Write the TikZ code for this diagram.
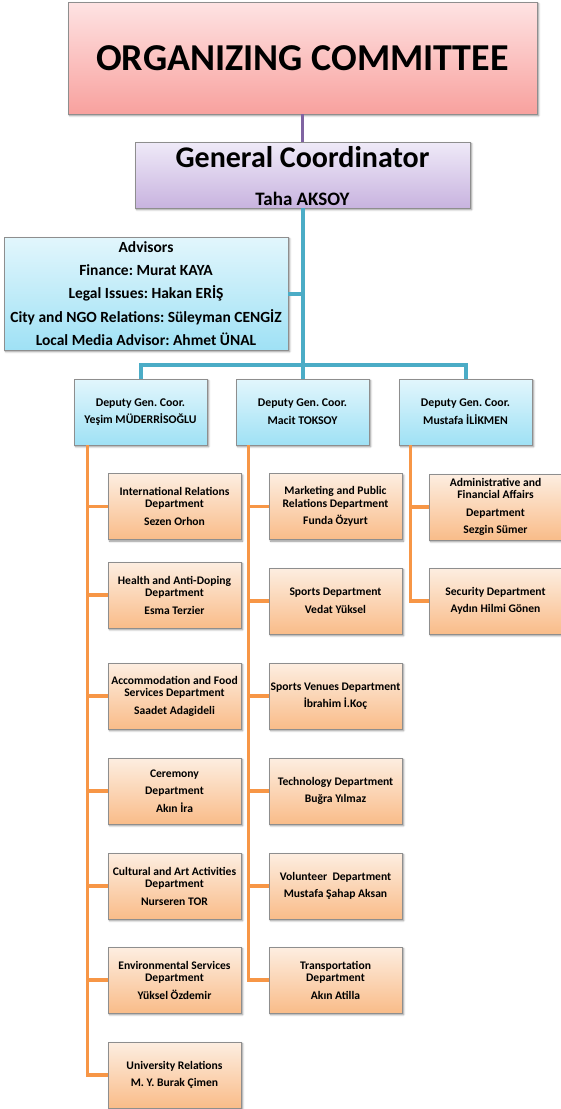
\documentclass[tikz,border=0pt]{standalone}
\usepackage{fontspec}
\setmainfont{Carlito}
\usetikzlibrary{shadows.blur}
\frenchspacing
\definecolor{ocTop}{HTML}{FEE3E3}
\definecolor{ocBot}{HTML}{F8A19E}
\definecolor{gcTop}{HTML}{EFEAF8}
\definecolor{gcBot}{HTML}{C8B3DF}
\definecolor{cyTop}{HTML}{E2F6FC}
\definecolor{cyBot}{HTML}{9FE1F5}
\definecolor{dpTop}{HTML}{FDEEE1}
\definecolor{dpBot}{HTML}{F9BC89}
\definecolor{boxGray}{HTML}{8E8E8E}
\definecolor{purpleLine}{HTML}{8064A2}
\definecolor{tealLine}{HTML}{4BACC6}
\definecolor{orangeLine}{HTML}{F79646}
\tikzset{
  box/.style={draw=boxGray, line width=0.8pt, inner sep=0pt, align=center,
    blur shadow={shadow xshift=1.6pt, shadow yshift=-1.6pt, shadow blur steps=5, shadow opacity=45}},
  ocbox/.style={box, top color=ocTop, bottom color=ocBot, minimum width=469pt, minimum height=112pt,
    font=\fontsize{38}{42}\selectfont\bfseries},
  gcbox/.style={box, top color=gcTop, bottom color=gcBot, minimum width=335pt, minimum height=66pt},
  advbox/.style={box, top color=cyTop, bottom color=cyBot, minimum width=284pt, minimum height=113pt,
    font=\fontsize{15.5}{23.3}\selectfont\bfseries},
  depbox/.style={box, top color=cyTop, bottom color=cyBot, minimum width=133pt, minimum height=66pt,
    font=\fontsize{11.8}{12.5}\selectfont\bfseries},
  deptbox/.style={box, top color=dpTop, bottom color=dpBot, minimum width=133pt, minimum height=66pt,
    font=\fontsize{11.6}{12.4}\selectfont\bfseries},
  pline/.style={purpleLine, line width=3pt},
  tline/.style={tealLine, line width=4pt},
  oline/.style={orangeLine, line width=3.5pt}
}
\begin{document}
\begin{tikzpicture}[x=1pt,y=-1pt]
\useasboundingbox (0,0) rectangle (561,1109);

\node (oc) [ocbox] at (302.5,58) {ORGANIZING COMMITTEE};
\node (gc) [gcbox] at (302.5,175) {};
\node (gctitle) [anchor=base, font=\fontsize{30}{32}\selectfont\bfseries] at (302.5,167) {General Coordinator};
\node (gcname) [anchor=base, font=\fontsize{19}{21}\selectfont\bfseries] at (302.5,205) {Taha AKSOY};

\node (adv) [advbox] at (146,293.5) {Advisors\\Finance: Murat KAYA\\Legal Issues: Hakan ERİŞ\\
  City and NGO Relations: Süleyman CENGİZ\\Local Media Advisor: Ahmet ÜNAL};

\node (dep1) [depbox] at (140.5,412) {Deputy Gen. Coor.\\[5.2pt]Yeşim MÜDERRİSOĞLU};
\node (dep2) [depbox] at (302.5,412) {Deputy Gen. Coor.\\[5.2pt]Macit TOKSOY};
\node (dep3) [depbox] at (465.5,412) {Deputy Gen. Coor.\\[5.2pt]Mustafa İLİKMEN};

% left column
\node (l1) [deptbox] at (174.5,506.5) {International Relations\\Department\\[5.2pt]Sezen Orhon};
\node (l2) [deptbox] at (174.5,595) {Health and Anti-Doping\\Department\\[5.2pt]Esma Terzier};
\node (l3) [deptbox] at (174.5,696) {Accommodation and Food\\Services Department\\[5.2pt]Saadet Adagideli};
\node (l4) [deptbox] at (174.5,791) {Ceremony\\[5.2pt]Department\\[5.2pt]Akın İra};
\node (l5) [deptbox] at (174.5,886) {Cultural and Art Activities\\Department\\[5.2pt]Nurseren TOR};
\node (l6) [deptbox] at (174.5,980) {Environmental Services\\Department\\[5.2pt]Yüksel Özdemir};
\node (l7) [deptbox] at (174.5,1075) {University Relations\\[5.2pt]M. Y. Burak Çimen};

% middle column
\node (m1) [deptbox] at (335.5,506.5) {Marketing and Public\\Relations Department\\[5.2pt]Funda Özyurt};
\node (m2) [deptbox] at (335.5,601) {Sports Department\\[5.2pt]Vedat Yüksel};
\node (m3) [deptbox] at (335.5,696) {Sports Venues Department\\[5.2pt]İbrahim İ.Koç};
\node (m4) [deptbox] at (335.5,791) {Technology Department\\[5.2pt]Buğra Yılmaz};
\node (m5) [deptbox] at (335.5,886) {Volunteer\ \ Department\\[5.2pt]Mustafa Şahap Aksan};
\node (m6) [deptbox] at (335.5,980) {Transportation\\Department\\[5.2pt]Akın Atilla};

% right column
\node (r1) [deptbox] at (495.5,507) {Administrative and\\Financial Affairs\\[5.2pt]Department\\[5.2pt]Sezgin Sümer};
\node (r2) [deptbox] at (495.5,601) {Security Department\\[5.2pt]Aydın Hilmi Gönen};

% connectors
\draw[pline] (oc.south) -- (gc.north);
\coordinate (split) at (302.5,365);
\draw[tline] (gc.south) -- (split);
\draw[tline] (adv.east) -- (adv.east -| gc.south);
\draw[tline] (dep1.north) |- (split) -| (dep3.north);
\draw[tline] (split) -- (dep2.north);

\coordinate (t1) at ([xshift=14pt]dep1.south west);
\coordinate (t2) at ([xshift=13pt]dep2.south west);
\coordinate (t3) at ([xshift=12pt]dep3.south west);
\draw[oline] (t1) |- (l7.west);
\foreach \i in {1,...,6} \draw[oline] (t1 |- l\i.west) -- (l\i.west);
\draw[oline] (t2) |- (m6.west);
\foreach \i in {1,...,5} \draw[oline] (t2 |- m\i.west) -- (m\i.west);
\draw[oline] (t3) |- (r2.west);
\draw[oline] (t3 |- r1.west) -- (r1.west);
\end{tikzpicture}
\end{document}
